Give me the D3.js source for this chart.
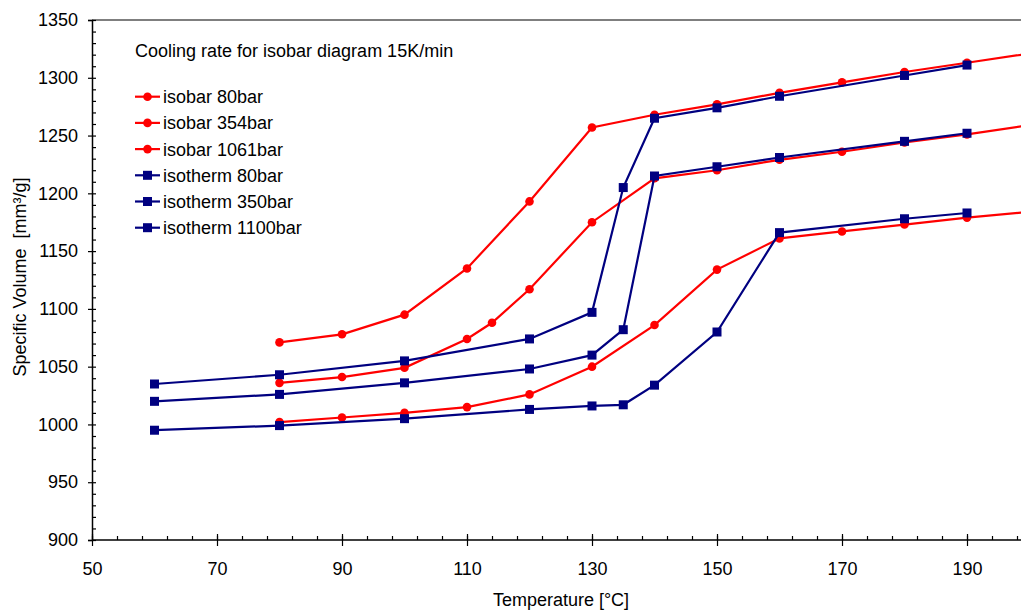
<!DOCTYPE html>
<html>
<head>
<meta charset="utf-8">
<script src="https://cdn.jsdelivr.net/npm/d3@7"></script>
<style>
  body { margin: 0; background: #fff; overflow: hidden; }
  text { font-family: "Liberation Sans", Arial, sans-serif; fill: #000; white-space: pre; }
</style>
</head>
<body>
<script>
var svgWidth = 1021;
var svgHeight = 610;

// data (temperature in °C, specific volume in mm³/g)
var isobar80T = [80, 90, 100, 110, 120, 130, 140, 150, 160, 170, 180, 190, 200];
var isobar80V = [1071, 1078, 1095, 1135, 1193, 1257, 1268, 1277, 1287, 1296, 1305, 1313, 1321];

var isobar354T = [80, 90, 100, 110, 114, 120, 130, 140, 150, 160, 170, 180, 190, 200];
var isobar354V = [1036, 1041, 1049, 1074, 1088, 1117, 1175, 1213, 1220, 1229, 1236, 1244, 1251, 1259];

var isobar1061T = [80, 90, 100, 110, 120, 130, 140, 150, 160, 170, 180, 190, 200];
var isobar1061V = [1002, 1006, 1010, 1015, 1026, 1050, 1086, 1134, 1161, 1167, 1173, 1179, 1184];

var isotherm80T = [60, 80, 100, 120, 130, 135, 140, 150, 160, 180, 190];
var isotherm80V = [1035, 1043, 1055, 1074, 1097, 1205, 1265, 1274, 1284, 1302, 1311];

var isotherm350T = [60, 80, 100, 120, 130, 135, 140, 150, 160, 180, 190];
var isotherm350V = [1020, 1026, 1036, 1048, 1060, 1082, 1215, 1223, 1231, 1245, 1252];

var isotherm1100T = [60, 80, 100, 120, 130, 135, 140, 150, 160, 180, 190];
var isotherm1100V = [995, 999, 1005, 1013, 1016, 1017, 1034, 1080, 1166, 1178, 1183];

var seriesNames = ["isobar 80bar", "isobar 354bar", "isobar 1061bar",
                   "isotherm 80bar", "isotherm 350bar", "isotherm 1100bar"];

var xMajorTicks = [50, 70, 90, 110, 130, 150, 170, 190];
var yMajorTicks = [900, 950, 1000, 1050, 1100, 1150, 1200, 1250, 1300, 1350];

var series = [
  { name: seriesNames[0], t: isobar80T, v: isobar80V, kind: "isobar" },
  { name: seriesNames[1], t: isobar354T, v: isobar354V, kind: "isobar" },
  { name: seriesNames[2], t: isobar1061T, v: isobar1061V, kind: "isobar" },
  { name: seriesNames[3], t: isotherm80T, v: isotherm80V, kind: "isotherm" },
  { name: seriesNames[4], t: isotherm350T, v: isotherm350V, kind: "isotherm" },
  { name: seriesNames[5], t: isotherm1100T, v: isotherm1100V, kind: "isotherm" }
];

var red = "#ff0000";
var navy = "#000080";

var svg = d3.select("body")
  .append("svg")
  .attr("width", svgWidth)
  .attr("height", svgHeight);

// plot origin at (92, 540); 6.25 px per °C
var x = d3.scaleLinear().domain([50, 200]).range([92, 92 + 150 * 6.25]);
var y = d3.scaleLinear().domain([900, 1350]).range([540, 20]);

// top frame line
svg.append("line")
  .attr("x1", x(50)).attr("x2", svgWidth)
  .attr("y1", y(1350)).attr("y2", y(1350))
  .attr("stroke", "#000").attr("stroke-width", 1.2);

// y axis: majors cross, minors inside
var yOut = svg.append("g")
  .attr("transform", `translate(${x(50)},0)`)
  .call(d3.axisLeft(y).tickValues(yMajorTicks).tickSize(4).tickPadding(10).tickFormat(d3.format("d")));
var yIn = svg.append("g")
  .attr("transform", `translate(${x(50)},0)`)
  .call(d3.axisRight(y).tickValues(d3.range(900, 1351, 10)).tickSize(4).tickFormat(""));

// x axis: majors cross, minors inside
var xOut = svg.append("g")
  .attr("transform", `translate(0,${y(900)})`)
  .call(d3.axisBottom(x).tickValues(xMajorTicks).tickSize(6).tickPadding(16).tickFormat(d3.format("d")));
var xIn = svg.append("g")
  .attr("transform", `translate(0,${y(900)})`)
  .call(d3.axisTop(x).tickValues(d3.range(50, 201, 4)).tickSize(4).tickFormat(""));
var xMajIn = svg.append("g")
  .attr("transform", `translate(0,${y(900)})`)
  .call(d3.axisTop(x).tickValues(xMajorTicks).tickSize(6).tickFormat(""));

svg.selectAll(".domain").attr("stroke", "#000").attr("stroke-width", 1.5);
svg.selectAll(".tick line").attr("stroke", "#000").attr("stroke-width", 1.2);
svg.selectAll(".tick text").attr("font-size", "18px")
  .attr("font-family", "Liberation Sans, Arial, sans-serif").attr("fill", "#000");
xIn.select(".domain").remove();
xMajIn.select(".domain").remove();
yIn.select(".domain").remove();
xOut.select(".domain").attr("d", `M${x(50)},0H${svgWidth}`);

// axis titles
svg.append("text")
  .attr("x", 561).attr("y", 606)
  .attr("text-anchor", "middle")
  .attr("font-size", "18px")
  .text("Temperature [°C]");

svg.append("text")
  .attr("transform", "translate(26,277) rotate(-90)")
  .attr("text-anchor", "middle")
  .attr("font-size", "18px")
  .text("Specific Volume  [mm³/g]");

// lines and markers
var line = d3.line()
  .x(d => x(d[0]))
  .y(d => y(d[1]));

series.forEach(function(s) {
  var pts = s.t.map((t, i) => [t, s.v[i]]);
  var col = s.kind === "isobar" ? red : navy;
  svg.append("path")
    .datum(pts)
    .attr("d", line)
    .attr("fill", "none")
    .attr("stroke", col)
    .attr("stroke-width", 2.2);
  if (s.kind === "isobar") {
    svg.selectAll(null)
      .data(pts)
      .enter()
      .append("circle")
      .attr("cx", d => x(d[0]))
      .attr("cy", d => y(d[1]))
      .attr("r", 4.3)
      .attr("fill", col);
  } else {
    svg.selectAll(null)
      .data(pts)
      .enter()
      .append("rect")
      .attr("x", d => x(d[0]) - 4.5)
      .attr("y", d => y(d[1]) - 4.5)
      .attr("width", 9)
      .attr("height", 9)
      .attr("fill", col);
  }
});

// legend
svg.append("text")
  .attr("x", 135).attr("y", 57)
  .attr("font-size", "18px")
  .text("Cooling rate for isobar diagram 15K/min");

var legend = svg.selectAll(".legend")
  .data(series)
  .enter()
  .append("g")
  .attr("class", "legend")
  .attr("transform", (d, i) => `translate(135, ${96.7 + i * 26.2})`);

legend.append("line")
  .attr("x1", 0).attr("x2", 25)
  .attr("stroke", d => d.kind === "isobar" ? red : navy)
  .attr("stroke-width", 2.2);

legend.each(function(d) {
  var g = d3.select(this);
  var col = d.kind === "isobar" ? red : navy;
  if (d.kind === "isobar") {
    g.append("circle").attr("cx", 12.5).attr("r", 4.3).attr("fill", col);
  } else {
    g.append("rect").attr("x", 8).attr("y", -4.5).attr("width", 9).attr("height", 9).attr("fill", col);
  }
});

legend.append("text")
  .attr("x", 28).attr("y", 6.5)
  .attr("font-size", "18px")
  .text(d => d.name);
</script>
</body>
</html>
